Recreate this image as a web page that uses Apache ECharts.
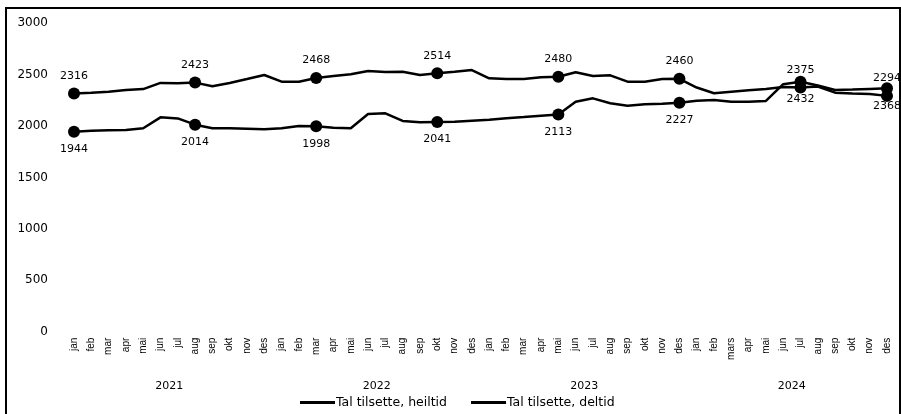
<!DOCTYPE html>
<html>
<head>
<meta charset="utf-8">
<script src="https://cdn.jsdelivr.net/npm/echarts@6/dist/echarts.min.js"></script>
<style>
  html, body { margin: 0; padding: 0; background: #fff; }
  #chart { width: 901px; height: 414px; }
  #frame {
    position: absolute; left: 5px; top: 7px;
    width: 892px; height: 420px;
    border: 2px solid #000; pointer-events: none;
  }
</style>
</head>
<body>
<div id="chart"></div>
<div id="frame"></div>
<script>
  // månader jan 2021 - des 2024
  const months = [
    'jan','feb','mar','apr','mai','jun','jul','aug','sep','okt','nov','des',
    'jan','feb','mar','apr','mai','jun','jul','aug','sep','okt','nov','des',
    'jan','feb','mar','apr','mai','jun','jul','aug','sep','okt','nov','des',
    'jan','feb','mars','apr','mai','jun','jul','aug','sep','okt','nov','des'
  ]
  const years = ['2021', '2022', '2023', '2024']
  const yTicks = [0, 500, 1000, 1500, 2000, 2500, 3000]

  const heiltid = [
    2316, 2325, 2335, 2350, 2360, 2420, 2418, 2423, 2388, 2420, 2458, 2497,
    2432, 2432, 2468, 2487, 2504, 2536, 2526, 2529, 2497, 2514, 2529, 2545,
    2465, 2458, 2458, 2475, 2480, 2523, 2487, 2494, 2432, 2432, 2458, 2460,
    2375, 2319, 2335, 2348, 2361, 2380, 2375, 2385, 2325, 2318, 2312, 2294
  ]
  const deltid = [
    1944, 1955, 1959, 1962, 1979, 2085, 2075, 2014, 1979, 1979, 1975, 1969,
    1979, 2001, 1998, 1985, 1979, 2118, 2124, 2050, 2037, 2041, 2043, 2053,
    2062, 2076, 2088, 2101, 2113, 2237, 2270, 2222, 2199, 2212, 2218, 2227,
    2247, 2255, 2237, 2237, 2245, 2408, 2432, 2395, 2352, 2356, 2362, 2368
  ]
  // punkt med markør og verdi
  const markIdx = [0, 7, 14, 21, 28, 35, 42, 47]

  function buildData(values) {
    return values.map(function (v, i) {
      if (markIdx.indexOf(i) >= 0) {
        return { value: v, symbol: 'circle', symbolSize: 12, label: { show: true } }
      }
      return { value: v, symbol: 'none' }
    })
  }

  const myChart = echarts.init(document.getElementById('chart'))
  myChart.setOption({
    animation: false,
    backgroundColor: '#fff',
    textStyle: { fontFamily: 'DejaVu Sans', color: '#000' },
    grid: { left: 74, right: 14, top: 23.3, bottom: 82.3 },
    legend: {
      left: 295,
      top: 391,
      itemWidth: 35,
      itemHeight: 3,
      itemGap: 24,
      icon: 'rect',
      textStyle: { fontFamily: 'DejaVu Sans', fontSize: 12.5, color: '#000', padding: [0, 0, 0, -4] },
      data: ['Tal tilsette, heiltid', 'Tal tilsette, deltid']
    },
    xAxis: [
      {
        type: 'category',
        boundaryGap: false,
        data: months,
        axisLine: { show: false },
        axisTick: { show: false },
        splitLine: { show: false },
        axisLabel: {
          interval: 0,
          rotate: 90,
          margin: 6,
          fontSize: 10,
          fontFamily: 'Liberation Sans',
          color: '#000'
        }
      },
      {
        type: 'value',
        position: 'bottom',
        offset: 41,
        min: 0,
        max: 47,
        axisLine: { show: false },
        axisTick: { show: false },
        splitLine: { show: false },
        axisLabel: {
          customValues: [5.5, 17.5, 29.5, 41.5],
          margin: 8,
          fontSize: 11,
          color: '#000',
          formatter: function (v) {
            return years[Math.round((v - 5.5) / 12)]
          }
        }
      }
    ],
    yAxis: {
      type: 'value',
      min: yTicks[0],
      max: yTicks[yTicks.length - 1],
      interval: 500,
      axisLine: { show: false },
      axisTick: { show: false },
      splitLine: { show: false },
      axisLabel: {
        margin: 26,
        fontSize: 12,
        color: '#000',
        formatter: function (v) { return String(v) }
      }
    },
    series: [
      {
        name: 'Tal tilsette, heiltid',
        type: 'line',
        xAxisIndex: 0,
        data: buildData(heiltid),
        color: '#000',
        lineStyle: { color: '#000', width: 2.5 },
        itemStyle: { color: '#000' },
        label: { position: 'top', distance: 6, fontSize: 11, color: '#000' }
      },
      {
        name: 'Tal tilsette, deltid',
        type: 'line',
        xAxisIndex: 0,
        data: buildData(deltid),
        color: '#000',
        lineStyle: { color: '#000', width: 2.5 },
        itemStyle: { color: '#000' },
        label: { position: 'bottom', distance: 6, fontSize: 11, color: '#000' }
      }
    ]
  })
</script>
</body>
</html>
